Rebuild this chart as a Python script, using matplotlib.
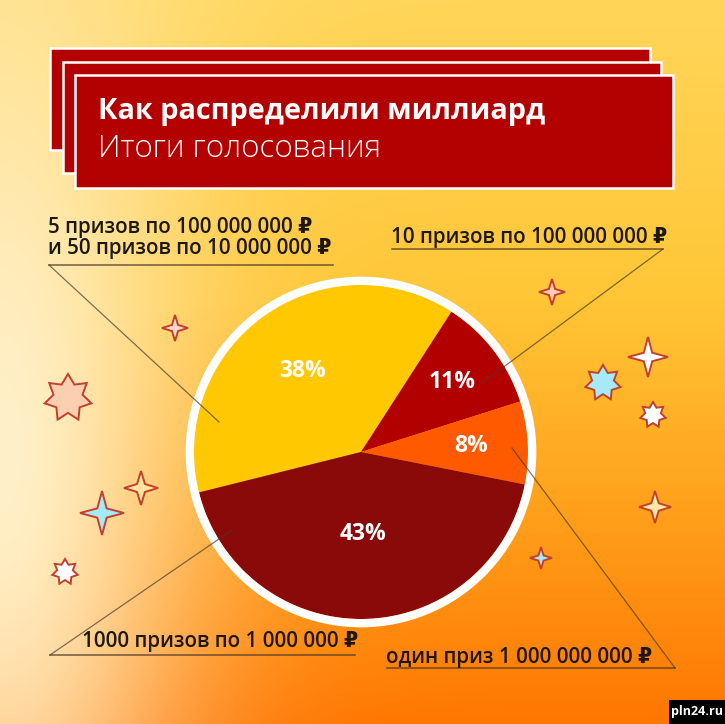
import numpy as np
import matplotlib.pyplot as plt
from matplotlib.patches import Rectangle, Polygon, Circle
from matplotlib.colors import to_rgb

plt.rcParams['font.family'] = ['Open Sans', 'DejaVu Sans']

# данные голосования
categories = ['5 призов по 100 000 000 ₽\nи 50 призов по 10 000 000 ₽',
              '10 призов по 100 000 000 ₽',
              'один приз 1 000 000 000 ₽',
              '1000 призов по 1 000 000 ₽']
shares = [38, 11, 8, 43]
colors = ['#FFC800', '#B20000', '#FF5A00', '#8A0A0A']

title = 'Как распределили миллиард'
subtitle = 'Итоги голосования'

W, H = 725, 724
fig = plt.figure(figsize=(7.25, 7.24), dpi=100)

# фон
bg = fig.add_axes([0, 0, 1, 1])
bg.set_xlim(0, W)
bg.set_ylim(H, 0)
bg.axis('off')

yy, xx = np.mgrid[0:H, 0:W]
stop_y = [0, 300, 500, 724]
stop_c = [to_rgb(c) for c in ['#FFD65A', '#FFC636', '#FFA21C', '#FF7600']]
base = np.stack([np.interp(yy, stop_y, [c[i] for c in stop_c]) for i in range(3)], -1)
glow = np.exp(-(xx / 190.0) ** 2 - ((yy - 450) / 560.0) ** 2)[..., None]
img = base * (1 - glow) + np.array(to_rgb('#FFF0C8')) * glow
bg.imshow(img, extent=(0, W, H, 0), aspect='auto', zorder=0)

# плашки заголовка
for x0, y0, x1, y1 in [(50, 48, 650, 150), (63, 62, 661, 173), (75, 75, 673, 188)]:
    bg.add_patch(Rectangle((x0, y0), x1 - x0, y1 - y0, fc='#B30000', ec='white', lw=1.8, zorder=2))
bg.text(98, 112, title, color='white', fontsize=20.8, fontweight='bold', va='center', zorder=3)
bg.text(98, 149, subtitle, color='white', fontsize=22.5, fontweight='light', va='center', zorder=3)


def star(cx, cy, n, ro, ri):
    a = np.linspace(-np.pi / 2, 1.5 * np.pi, 2 * n, endpoint=False)
    r = np.where(np.arange(2 * n) % 2 == 0, ro, ri)
    return np.column_stack([cx + r * np.cos(a), cy + r * np.sin(a)])


stars = [(68, 398, 7, 24, 0.62, '#FCCFB0'), (175, 328, 4, 13, 0.33, '#FFD8CC'),
         (141, 488, 4, 17, 0.33, '#FFE6A0'), (102, 513, 4, 22, 0.3, '#A6EAF7'),
         (65, 572, 7, 13, 0.62, 'white'), (552, 292, 4, 13, 0.33, '#FCCFB0'),
         (648, 357, 4, 20, 0.3, 'white'), (603, 383, 7, 18, 0.62, '#A6EAF7'),
         (653, 415, 7, 13, 0.62, 'white'), (655, 507, 4, 16, 0.33, '#FFE8A8'),
         (541, 558, 4, 11, 0.33, '#A6EAF7')]
for cx, cy, n, ro, k, fc in stars:
    bg.add_patch(Polygon(star(cx, cy, n, ro, ro * k), closed=True, fc=fc, ec='#C2402E', lw=1.4, zorder=2))

# водяной знак
bg.add_patch(Rectangle((669, 700), 56, 24, fc='black', zorder=2))
bg.text(697, 712, 'pln24.ru', color='white', fontsize=9, fontweight='bold', ha='center', va='center', zorder=3)

# круговая диаграмма
R = 167
cx, cy = 361, 452
half = 1.15 * R
axp = fig.add_axes([(cx - half) / W, (H - cy - half) / H, 2 * half / W, 2 * half / H])
axp.set_zorder(1)
wedges, _ = axp.pie(shares, colors=colors, startangle=194, counterclock=False,
                    radius=1, wedgeprops=dict(linewidth=0))
axp.add_patch(Circle((0, 0), 1.025, fill=False, ec='white', lw=6))
axp.set_xlim(-1.15, 1.15)
axp.set_ylim(-1.15, 1.15)
axp.set_aspect('equal')
axp.axis('off')

pct_dist = [0.6, 0.69, 0.66, 0.49]
for w, s, d in zip(wedges, shares, pct_dist):
    m = np.deg2rad((w.theta1 + w.theta2) / 2)
    axp.text(d * np.cos(m), d * np.sin(m), f'{s}%', color='white', fontsize=16.5,
             fontweight='bold', ha='center', va='center')

# подписи и выноски
top = fig.add_axes([0, 0, 1, 1])
top.set_xlim(0, W)
top.set_ylim(H, 0)
top.axis('off')
top.patch.set_alpha(0)
top.set_zorder(2)

layout = [
    dict(xy=(48, 238), line=(49, 333, 265), tip=(49, 265), end=(219, 422)),
    dict(xy=(391, 238), line=(392, 663, 249), tip=(663, 249), end=(482, 383)),
    dict(xy=(386, 657), line=(387, 675, 668), tip=(675, 668), end=(512, 448)),
    dict(xy=(82, 642), line=(50, 355, 655), tip=(50, 655), end=(232, 530)),
]
for lab, L in zip(categories, layout):
    top.text(L['xy'][0], L['xy'][1], lab, color='#1C1712', fontsize=14.8, fontweight='semibold',
             va='center', ha='left', linespacing=1.0)
    x0, x1, y = L['line']
    top.plot([x0, x1], [y, y], color='#4A3A2A', lw=1.1, alpha=0.8)
    top.plot([L['tip'][0], L['end'][0]], [L['tip'][1], L['end'][1]], color='#4A3A2A', lw=0.9, alpha=0.7)

fig.savefig('out.png', dpi=100)
